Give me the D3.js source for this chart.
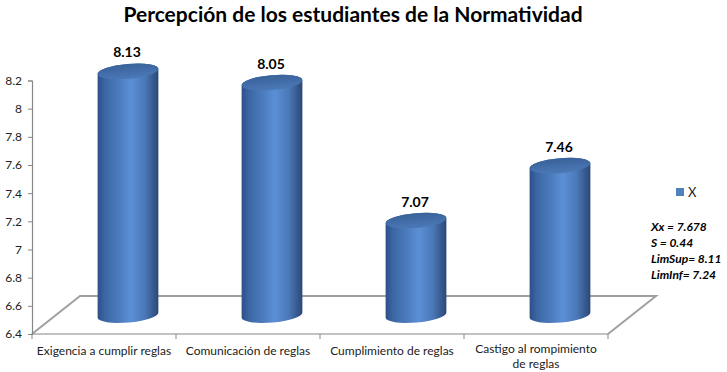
<!DOCTYPE html>
<html>
<head>
<meta charset="utf-8">
<script src="https://cdn.jsdelivr.net/npm/d3@7"></script>
<style>
  body { margin: 0; background: #fff; }
  svg { display: block; font-family: Lato, "Open Sans", sans-serif; }
</style>
</head>
<body>
<svg id="chart" width="727" height="372"></svg>
<script>
// data
const categories = [
  ["Exigencia a cumplir reglas"],
  ["Comunicación de reglas"],
  ["Cumplimiento de reglas"],
  ["Castigo al rompimiento", "de reglas"]
];
const values = [8.13, 8.05, 7.07, 7.46];
const yTicks = [6.4, 6.6, 6.8, 7, 7.2, 7.4, 7.6, 7.8, 8, 8.2];
const statsLines = ["Xx = 7.678", "S = 0.44", "LimSup= 8.11", "LimInf= 7.24"];
const seriesName = "X";

const svg = d3.select("#chart");

// plot frame
const plotLeft = 32, plotRight = 608, plotBottom = 334, plotTop = 80.5;
const depthX = 48, depthY = -38;   // floor depth offset

const xScale = d3.scaleBand()
  .domain(d3.range(categories.length))
  .range([plotLeft, plotRight])
  .padding(0);

const yScale = d3.scaleLinear()
  .domain([6.4, 8.2])
  .range([plotBottom, plotTop]);

// title
svg.append("text")
  .attr("x", 353)
  .attr("y", 22)
  .attr("text-anchor", "middle")
  .attr("font-size", 21)
  .attr("font-weight", "bold")
  .attr("fill", "#000")
  .text("Percepción de los estudiantes de la Normatividad");

// floor (3d base)
const floor = svg.append("g")
  .attr("fill", "none")
  .attr("stroke", "#a0a0a0");
floor.append("path")
  .attr("stroke-width", 2)
  .attr("d", `M${plotLeft},${plotBottom} L${plotLeft + depthX},${plotBottom + depthY} L${plotRight + depthX},${plotBottom + depthY} L${plotRight},${plotBottom}`);

// y axis
const yAxis = d3.axisLeft(yScale)
  .tickValues(yTicks)
  .tickFormat(d => d3.format("")(+d.toFixed(1)))
  .tickSize(4)
  .tickPadding(6);

const yAxisGroup = svg.append("g")
  .attr("transform", `translate(${plotLeft},0)`)
  .call(yAxis);
yAxisGroup.select(".domain").attr("stroke", "#868686").attr("stroke-width", 1.2);
yAxisGroup.selectAll(".tick line").attr("stroke", "#868686");
yAxisGroup.selectAll(".tick text")
  .attr("font-family", "Lato, sans-serif")
  .attr("font-size", 12)
  .attr("fill", "#222");

// x axis (front edge of floor)
const xAxisGroup = svg.append("g");
xAxisGroup.append("line")
  .attr("x1", plotLeft).attr("x2", plotRight)
  .attr("y1", plotBottom).attr("y2", plotBottom)
  .attr("stroke", "#868686").attr("stroke-width", 1.2);
xAxisGroup.selectAll("line.tk")
  .data(d3.range(categories.length + 1))
  .join("line")
    .attr("class", "tk")
    .attr("x1", i => plotLeft + i * xScale.bandwidth())
    .attr("x2", i => plotLeft + i * xScale.bandwidth())
    .attr("y1", plotBottom)
    .attr("y2", plotBottom + 5)
    .attr("stroke", "#868686");

xAxisGroup.selectAll("text.cat")
  .data(categories)
  .join("text")
    .attr("class", "cat")
    .attr("x", (d, i) => xScale(i) + xScale.bandwidth() / 2)
    .attr("y", d => d.length > 1 ? 353 : 355)
    .attr("text-anchor", "middle")
    .attr("font-size", 12)
    .attr("fill", "#222")
    .each(function(d) {
      const t = d3.select(this);
      d.forEach((line, k) => {
        t.append("tspan")
          .attr("x", t.attr("x"))
          .attr("dy", k === 0 ? 0 : 15)
          .text(line);
      });
    });

// gradients for cylinders
const defs = svg.append("defs");
const side = defs.append("linearGradient").attr("id", "side")
  .attr("x1", "0%").attr("x2", "100%").attr("y1", "0%").attr("y2", "0%");
[["0%", "#2d5087"], ["12%", "#3b66a3"], ["55%", "#5b8fd5"], ["78%", "#4a78b7"], ["100%", "#2b4774"]]
  .forEach(s => side.append("stop").attr("offset", s[0]).attr("stop-color", s[1]));
const cap = defs.append("linearGradient").attr("id", "cap")
  .attr("x1", "0%").attr("x2", "0%").attr("y1", "0%").attr("y2", "100%");
[["0%", "#3a6199"], ["100%", "#4b79b7"]]
  .forEach(s => cap.append("stop").attr("offset", s[0]).attr("stop-color", s[1]));

// cylinders
const rx = 30.5, ry = 7.5, tilt = -5;
const rad = tilt * Math.PI / 180;
const ex = rx * Math.cos(rad), ey = rx * Math.sin(rad);
const cxOf = i => xScale(i) + xScale.bandwidth() / 2 + depthX / 2;
const cyOf = v => yScale(v) + depthY / 2;
const baseY = cyOf(6.4);

const bars = svg.append("g").selectAll("g")
  .data(values)
  .join("g");

bars.append("path")
  .attr("fill", "url(#side)")
  .attr("d", (d, i) => {
    const cx = cxOf(i), yt = cyOf(d);
    return `M${cx - ex},${yt - ey} L${cx - ex},${baseY - ey} ` +
      `A${rx},${ry} ${tilt} 0 0 ${cx + ex},${baseY + ey} ` +
      `L${cx + ex},${yt + ey} ` +
      `A${rx},${ry} ${tilt} 0 0 ${cx - ex},${yt - ey} Z`;
  });

bars.append("ellipse")
  .attr("fill", "url(#cap)")
  .attr("rx", rx).attr("ry", ry)
  .attr("transform", (d, i) => `translate(${cxOf(i)},${cyOf(d)}) rotate(${tilt})`);

// data labels
bars.append("text")
  .attr("x", (d, i) => cxOf(i) - 1)
  .attr("y", d => cyOf(d) - 14)
  .attr("text-anchor", "middle")
  .attr("font-size", 14)
  .attr("font-weight", "bold")
  .attr("fill", "#000")
  .text(d => d.toFixed(2));

// legend
svg.append("rect")
  .attr("x", 676).attr("y", 188)
  .attr("width", 8).attr("height", 8)
  .attr("fill", "#4f81bd");
svg.append("text")
  .attr("x", 688).attr("y", 197)
  .attr("font-size", 13)
  .attr("fill", "#222")
  .text(seriesName);

// stats note
svg.append("g").selectAll("text")
  .data(statsLines)
  .join("text")
    .attr("x", 651)
    .attr("y", (d, i) => 231 + i * 16)
    .attr("font-size", 12)
    .attr("font-weight", "bold")
    .attr("font-style", "italic")
    .attr("fill", "#000")
    .text(d => d);
</script>
</body>
</html>
